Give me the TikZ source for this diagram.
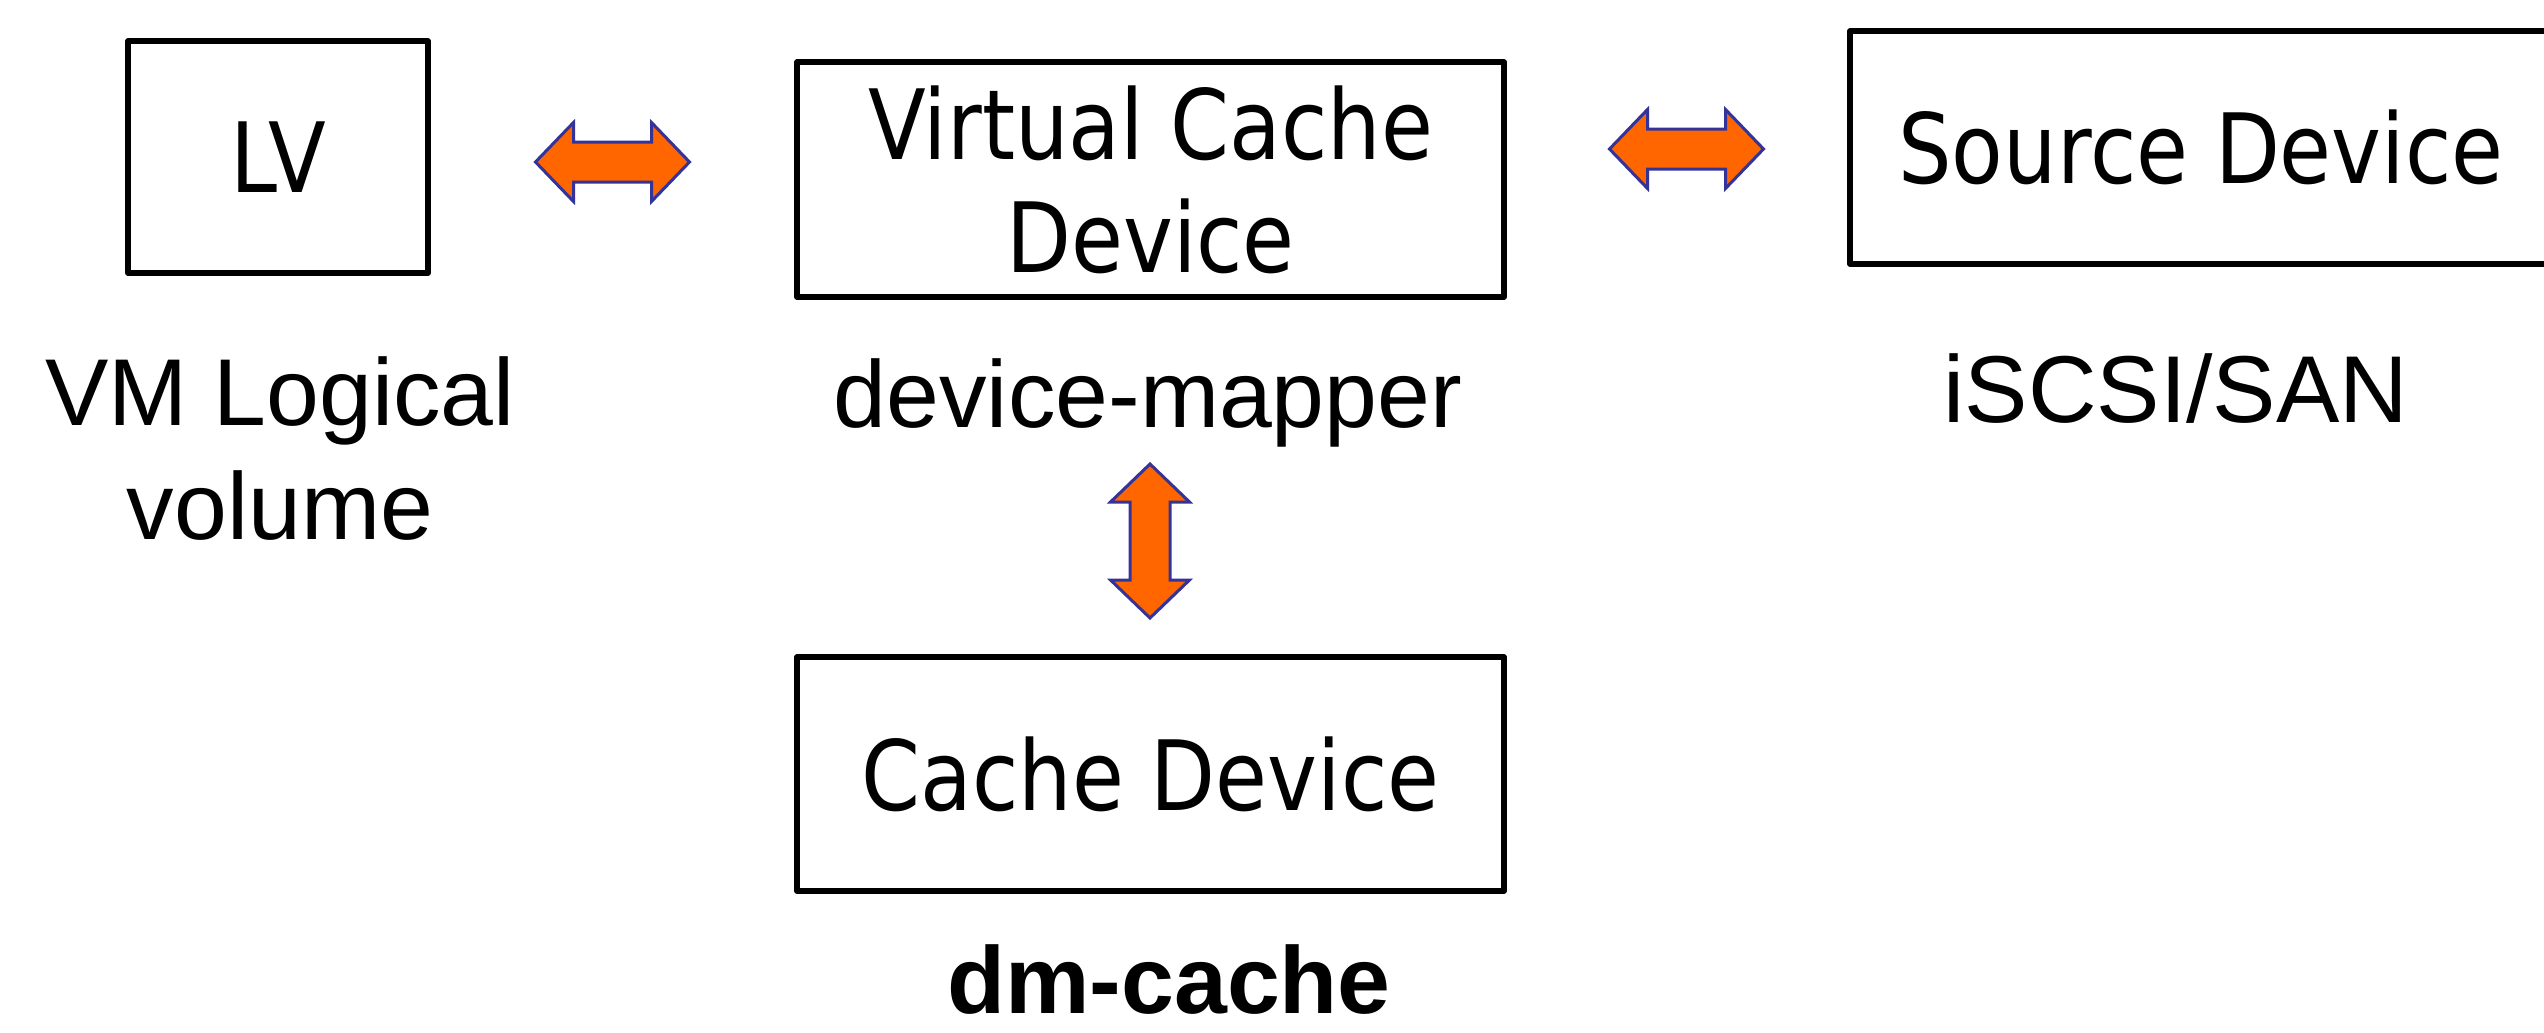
\documentclass[tikz,border=0pt]{standalone}
\usepackage{fontspec}
\setmainfont{Liberation Sans}
\newfontfamily\boxfont[FakeStretch=0.87]{DejaVu Sans}
\definecolor{arrowfill}{HTML}{FF6600}
\definecolor{arrowline}{HTML}{333399}
\tikzset{
  box/.style={draw=black, line width=5.5pt, line join=round, rectangle, inner sep=0pt,
    align=center, font=\boxfont\fontsize{97}{113}\selectfont},
  lbl/.style={inner sep=0pt, align=center, font=\fontsize{95}{114}\selectfont},
  blockarrow/.style={fill=arrowfill, draw=arrowline, line width=3pt, line join=miter},
  dblarrow/.pic={
    \draw[blockarrow] (-77,0) -- (-39,-39.5) -- (-39,-20) -- (39,-20) -- (39,-39.5)
      -- (77,0) -- (39,39.5) -- (39,20) -- (-39,20) -- (-39,39.5) -- cycle;
  }
}
\begin{document}
\begin{tikzpicture}[x=1pt, y=-1pt]
\useasboundingbox[fill=white] (0,0) rectangle (2544,1033);

% boxes
\node[box, minimum width=300pt, minimum height=232pt] (lv) at (278,157) {LV};
\node[box, minimum width=707pt, minimum height=235pt] (vcd) at (1150.5,179.5) {Virtual Cache\\Device};
\node[box, minimum width=702pt, minimum height=233pt] (src) at (2201,147.5) {Source Device};
\node[box, minimum width=707pt, minimum height=234pt] (cache) at (1150.5,774) {Cache Device};

% labels
\node[lbl, anchor=north] (vmlv) at (280,356) {VM Logical\\volume};
\node[lbl, anchor=base] (dmap) at (1148,427) {device-mapper};
\node[lbl, anchor=base] (iscsi) at (2176,422) {iSCSI/SAN};
\node[lbl, anchor=base, font=\bfseries\fontsize{95}{114}\selectfont] (dmc) at (1169,1013) {dm-cache};

% block arrows
\pic at (612.5,162) {dblarrow};
\pic at (1686.5,149) {dblarrow};
\pic[rotate=90] at (1150,541) {dblarrow};
\end{tikzpicture}
\end{document}
